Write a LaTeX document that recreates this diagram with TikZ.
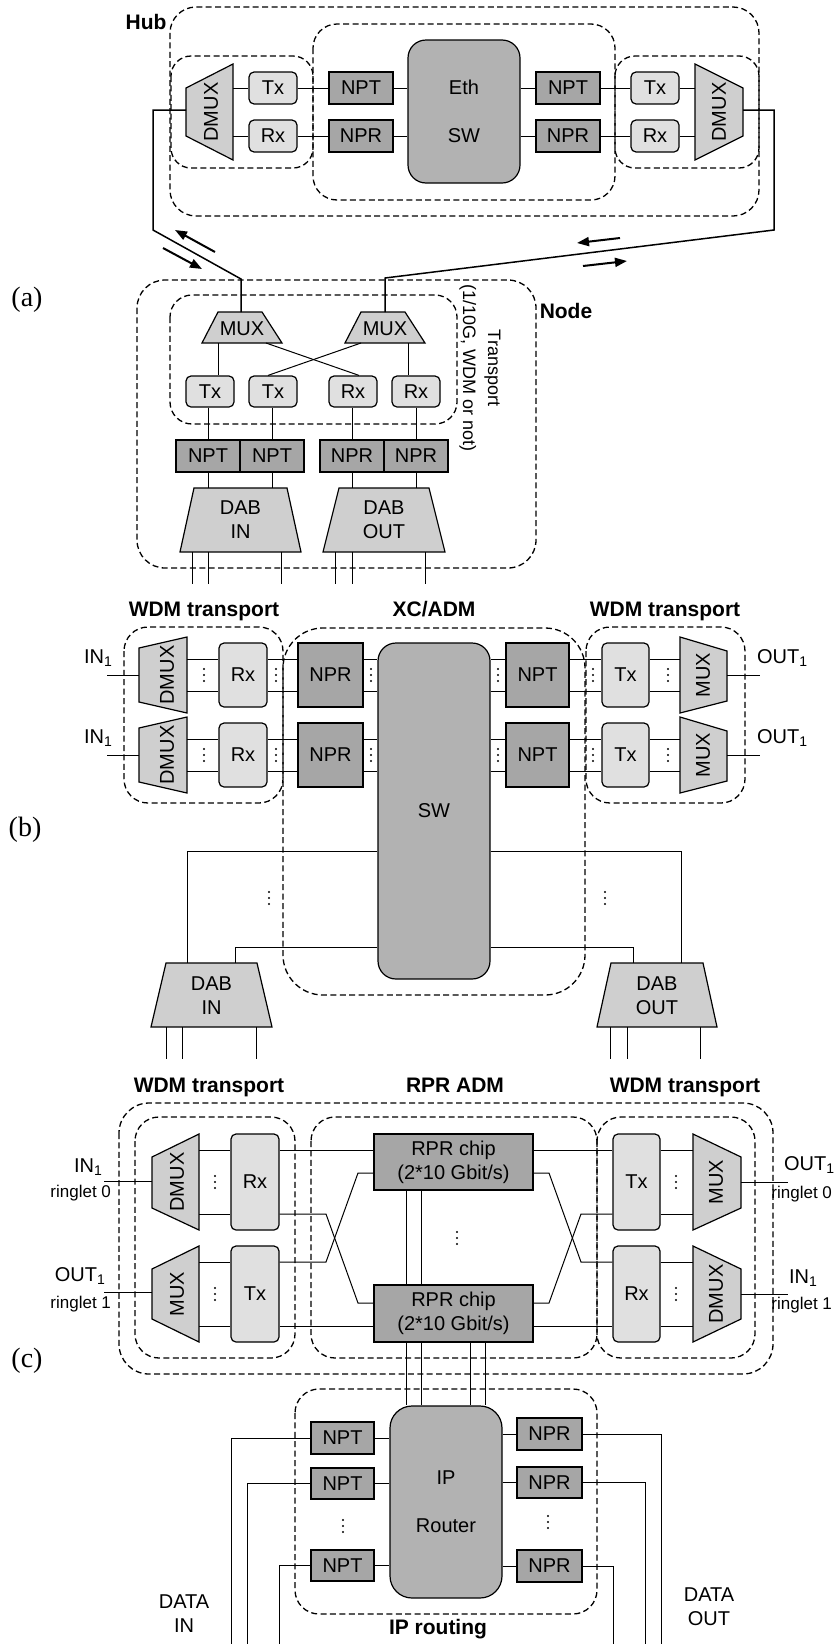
\documentclass[tikz,border=0pt]{standalone}
\usepackage{fontspec}
\setmainfont{Liberation Sans}
\newfontfamily\labfont{Liberation Serif}
\usetikzlibrary{arrows.meta}
\definecolor{txc}{gray}{0.88}
\definecolor{muxc}{gray}{0.81}
\definecolor{npc}{gray}{0.65}
\definecolor{swc}{gray}{0.70}
\newcommand\vdd[2]{\fill (#1,#2-6) circle[radius=1.1] (#1,#2) circle[radius=1.1] (#1,#2+6) circle[radius=1.1];}
\tikzset{
  sz/.style 2 args={minimum width={#1*0.5pt}, minimum height={#2*0.5pt}},
  dbox/.style={draw, dash pattern=on 3pt off 1.7pt, line width=0.65pt, rounded corners=12pt},
  light/.style={draw, fill=txc, rounded corners=2.5pt, line width=0.6pt, inner sep=0pt},
  dark/.style={draw, fill=npc, line width=0.6pt, inner sep=0pt},
  swbox/.style={draw, fill=swc, line width=0.6pt, inner sep=0pt, align=center},
  mux/.style={draw, fill=muxc, line width=0.6pt},
  ln/.style={line width=0.5pt},
  ext/.style={line width=0.75pt},
  arr/.style={line width=1pt, -{Triangle[length=6pt, width=4.5pt]}},
  bl/.style={font=\fontsize{10.5}{12}\selectfont\bfseries},
  labf/.style={font=\labfont\fontsize{14}{16}\selectfont},
  small/.style={font=\fontsize{8.5}{10}\selectfont},
  two/.style={align=center, font=\fontsize{10}{12}\selectfont},
}
\begin{document}
\begin{tikzpicture}[x=0.5pt, y=-0.5pt, font=\fontsize{10}{12}\selectfont]
\useasboundingbox (0,0) rectangle (840,1644);

%================ (a) HUB =================
\node[bl, anchor=base] (hubl) at (146,29) {Hub};
\draw[dbox, rounded corners=13pt] (170,7) rectangle (759,216);
\draw[dbox] (313,24) rectangle (615,200);
\draw[dbox, rounded corners=10pt] (171,56) rectangle (313,168);
\draw[dbox, rounded corners=10pt] (615,56) rectangle (759,168);

\filldraw[mux] (186,88) -- (233,64) -- (233,160) -- (186,136) -- cycle;
\node[rotate=90] (hdmxl) at (211,112) {DMUX};
\filldraw[mux] (695,64) -- (743,88) -- (743,136) -- (695,160) -- cycle;
\node[rotate=90] (hdmxr) at (719,112) {DMUX};
\coordinate (hdl1) at (233,88); \coordinate (hdl2) at (233,136); \coordinate (hdl0) at (186,110);
\coordinate (hdr1) at (695,88); \coordinate (hdr2) at (695,136); \coordinate (hdr0) at (743,110);

\node[light, sz={48}{32}] (htxl) at (273,88) {Tx};
\node[light, sz={48}{32}] (hrxl) at (273,136) {Rx};
\node[dark, sz={64}{32}] (hnptl) at (361,88) {NPT};
\node[dark, sz={64}{32}] (hnprl) at (361,136) {NPR};
\node[swbox, sz={112}{143}, rounded corners=9pt] (hsw) at (464,111.5) {Eth\\[12pt]SW};
\node[dark, sz={64}{32}] (hnptr) at (568,88) {NPT};
\node[dark, sz={64}{32}] (hnprr) at (568,136) {NPR};
\node[light, sz={48}{32}] (htxr) at (655,88) {Tx};
\node[light, sz={48}{32}] (hrxr) at (655,136) {Rx};

\draw[ln] (hdl1) -- (htxl.west);  \draw[ln] (htxl.east) -- (hnptl.west);
\draw[ln] (hnptl.east) -- (hnptl.east -| hsw.west);
\draw[ln] (hdl2) -- (hrxl.west);  \draw[ln] (hrxl.east) -- (hnprl.west);
\draw[ln] (hnprl.east) -- (hnprl.east -| hsw.west);
\draw[ln] (hnptr.west -| hsw.east) -- (hnptr.west); \draw[ln] (hnptr.east) -- (htxr.west);
\draw[ln] (htxr.east) -- (hdr1);
\draw[ln] (hnprr.west -| hsw.east) -- (hnprr.west); \draw[ln] (hnprr.east) -- (hrxr.west);
\draw[ln] (hrxr.east) -- (hdr2);

%================ (a) NODE =================
\node[labf] (la) at (27,300) {(a)};
\draw[dbox, rounded corners=14pt] (137,280) rectangle (536,568);
\draw[dbox, rounded corners=11pt] (170,295) rectangle (457,424);
\node[bl, anchor=base] (nodel) at (566,318) {Node};
\node[rotate=-90, align=center, font=\fontsize{9}{12.5}\selectfont] (transl) at (480,368) {Transport\\(1/10G, WDM or not)};

\filldraw[mux] (218,312) -- (262,312) -- (282,343) -- (202,343) -- cycle;
\node (nmuxl) at (242,329) {MUX};
\filldraw[mux] (361,312) -- (405,312) -- (425,343) -- (345,343) -- cycle;
\node (nmuxr) at (385,329) {MUX};
\coordinate (nml0) at (241,312); \coordinate (nmr0) at (385,312);
\coordinate (nml1) at (218,343); \coordinate (nml2) at (266,343);
\coordinate (nmr1) at (361,343); \coordinate (nmr2) at (408,343);

% hub-node links
\draw[ext] (hdl0) -- (153,110) -- (153,230) -- (241,279) -- (nml0);
\draw[ext] (hdr0) -- (774,110) -- (774,230) -- (385,278) -- (nmr0);
\draw[arr] (215,252) -- (175,230);
\draw[arr] (163,248) -- (202,269);
\draw[arr] (620,238) -- (577,243);
\draw[arr] (583,266) -- (627,261);

\node[light, sz={48}{31}] (ntx1) at (210,391.5) {Tx};
\node[light, sz={48}{31}] (ntx2) at (273,391.5) {Tx};
\node[light, sz={48}{31}] (nrx1) at (353,391.5) {Rx};
\node[light, sz={48}{31}] (nrx2) at (416,391.5) {Rx};
\draw[ln] (nml1) -- (nml1 |- ntx1.north);
\draw[ln] (nml2) -- ([xshift=3pt]nrx1.north);
\draw[ln] (nmr1) -- ([xshift=-2.5pt]ntx2.north);
\draw[ln] (nmr2) -- (nmr2 |- nrx2.north);

\node[dark, sz={64}{32}] (nnpt1) at (208,456) {NPT};
\node[dark, sz={64}{32}] (nnpt2) at (272,456) {NPT};
\node[dark, sz={64}{32}] (nnpr1) at (352,456) {NPR};
\node[dark, sz={64}{32}] (nnpr2) at (416,456) {NPR};
\draw[ln] (nnpt1.north |- ntx1.south) -- (nnpt1.north);
\draw[ln] (nnpt2.north |- ntx2.south) -- (nnpt2.north);
\draw[ln] (nnpr1.north |- nrx1.south) -- (nnpr1.north);
\draw[ln] (nnpr2.north |- nrx2.south) -- (nnpr2.north);

\filldraw[mux] (194,488) -- (287,488) -- (301,552) -- (180,552) -- cycle;
\node[two] (ndabi) at (240.5,520) {DAB\\IN};
\filldraw[mux] (339,488) -- (429,488) -- (445,552) -- (323,552) -- cycle;
\node[two] (ndabo) at (384,520) {DAB\\OUT};
\coordinate (ndit) at (240,488); \coordinate (ndot) at (384,488);
\draw[ln] (nnpt1.south) -- (nnpt1.south |- ndit);
\draw[ln] (nnpt2.south) -- (nnpt2.south |- ndit);
\draw[ln] (nnpr1.south) -- (nnpr1.south |- ndot);
\draw[ln] (nnpr2.south) -- (nnpr2.south |- ndot);
\foreach \x in {192,208,281,335,352,425} \draw[ln] (\x,552) -- (\x,584);

%================ (b) =================
\node[bl, anchor=base] (bw1) at (204,616) {WDM transport};
\node[bl, anchor=base] (bxc) at (434,616) {XC/ADM};
\node[bl, anchor=base] (bw2) at (665,616) {WDM transport};
\node[labf] (lb) at (25,830) {(b)};
\draw[dbox] (124,627) rectangle (283,803);
\draw[dbox, rounded corners=20pt] (283,628) rectangle (585,995);
\draw[dbox] (586,627) rectangle (745,803);

\node[swbox, sz={112}{336}, rounded corners=9pt] (bsw) at (434,811) {SW};

\foreach \r/\yc in {1/675, 2/755}{
  \filldraw[mux] (139,\yc-27) -- (187,\yc-38) -- (187,\yc+38) -- (139,\yc+27) -- cycle;
  \node[rotate=90] (bdm\r) at (167,\yc) {DMUX};
  \draw[ln] (107,\yc) -- (139,\yc);
  \node[anchor=base east] (bin\r) at (120,\yc-12) {IN\textsubscript{1}};
  \node[light, sz={48}{64}] (brx\r) at (243,\yc) {Rx};
  \node[dark, sz={65}{64}] (bnpr\r) at (330.5,\yc) {NPR};
  \node[dark, sz={63}{64}] (bnpt\r) at (537.5,\yc) {NPT};
  \node[light, sz={47}{64}] (btx\r) at (625.5,\yc) {Tx};
  \filldraw[mux] (680,\yc-38) -- (727,\yc-24) -- (727,\yc+26) -- (680,\yc+38) -- cycle;
  \node[rotate=90] (bmx\r) at (703,\yc) {MUX};
  \draw[ln] (727,\yc) -- (760,\yc);
  \node[anchor=base west] (bout\r) at (750,\yc-12) {OUT\textsubscript{1}};
  \foreach \s in {8pt,-8pt}{
    \draw[ln] ([yshift=\s]brx\r.west -| 187,0) -- ([yshift=\s]brx\r.west);
    \draw[ln] ([yshift=\s]brx\r.east) -- ([yshift=\s]bnpr\r.west);
    \draw[ln] ([yshift=\s]bnpr\r.east) -- ([yshift=\s]bnpr\r.east -| bsw.west);
    \draw[ln] ([yshift=\s]bnpt\r.west -| bsw.east) -- ([yshift=\s]bnpt\r.west);
    \draw[ln] ([yshift=\s]bnpt\r.east) -- ([yshift=\s]btx\r.west);
    \draw[ln] ([yshift=\s]btx\r.east) -- ([yshift=\s]btx\r.east -| 680,0);
  }
  \vdd{204}{\yc} \vdd{276}{\yc} \vdd{371}{\yc} \vdd{498}{\yc} \vdd{593}{\yc} \vdd{668}{\yc}
}

\filldraw[mux] (166,963) -- (257,963) -- (272,1027) -- (151,1027) -- cycle;
\node[two] (bdabi) at (211.5,996) {DAB\\IN};
\filldraw[mux] (611,963) -- (703,963) -- (717,1027) -- (597,1027) -- cycle;
\node[two] (bdabo) at (657,996) {DAB\\OUT};
\coordinate (bdi1) at (187,963); \coordinate (bdi2) at (235,963);
\coordinate (bdo1) at (681,963); \coordinate (bdo2) at (633,963);
\draw[ln] ([yshift=-20pt]bsw.west) -| (bdi1);
\draw[ln] ([yshift=-68pt]bsw.west) -| (bdi2);
\draw[ln] ([yshift=-20pt]bsw.east) -| (bdo1);
\draw[ln] ([yshift=-68pt]bsw.east) -| (bdo2);
\vdd{269}{898} \vdd{605}{898}
\foreach \x in {166,182,256,610,627,700} \draw[ln] (\x,1027) -- (\x,1059);

%================ (c) =================
\node[bl, anchor=base] (cw1) at (209,1092) {WDM transport};
\node[bl, anchor=base] (crpra) at (455,1092) {RPR ADM};
\node[bl, anchor=base] (cw2) at (685,1092) {WDM transport};
\node[labf] (lc) at (27,1361) {(c)};
\draw[dbox, rounded corners=15pt] (119,1103) rectangle (773,1374);
\draw[dbox] (135,1117) rectangle (295,1358);
\draw[dbox] (311,1117) rectangle (597,1358);
\draw[dbox] (597,1117) rectangle (755,1358);

% left WDM
\filldraw[mux] (152,1157) -- (199,1134) -- (199,1230) -- (152,1208) -- cycle;
\node[rotate=90] (cdm1) at (177,1182) {DMUX};
\filldraw[mux] (152,1269) -- (199,1246) -- (199,1342) -- (152,1319) -- cycle;
\node[rotate=90] (cmx1) at (177,1294) {MUX};
\node[light, sz={48}{96}] (crx1) at (255,1182) {Rx};
\node[light, sz={48}{96}] (ctx1) at (255,1294) {Tx};
\foreach \s in {16pt,-16pt}{
  \draw[ln] ([yshift=\s]crx1.west -| 199,0) -- ([yshift=\s]crx1.west);
  \draw[ln] ([yshift=\s]ctx1.west -| 199,0) -- ([yshift=\s]ctx1.west);
}
\vdd{215}{1182} \vdd{215}{1294}
\draw[ln] (104,1181) -- (152,1181);
\draw[ln] (104,1292) -- (152,1292);
\node[anchor=base east] (cin1) at (110,1172) {IN\textsubscript{1}};
\node[small, anchor=base east] (crg0) at (118,1197) {ringlet 0};
\node[anchor=base east] (cout1) at (113,1281) {OUT\textsubscript{1}};
\node[small, anchor=base east] (crg1) at (118,1308) {ringlet 1};

% RPR chips
\node[dark, sz={159}{56}, two] (crpr1) at (453.5,1162) {RPR chip\\(2*10 Gbit/s)};
\node[dark, sz={159}{57}, two] (crpr2) at (453.5,1313.5) {RPR chip\\(2*10 Gbit/s)};

% right WDM
\node[light, sz={47}{96}] (ctx2) at (636.5,1182) {Tx};
\node[light, sz={47}{96}] (crx2) at (636.5,1294) {Rx};
\filldraw[mux] (693,1134) -- (741,1157) -- (741,1208) -- (693,1230) -- cycle;
\node[rotate=90] (cmx2) at (716,1182) {MUX};
\filldraw[mux] (693,1246) -- (741,1269) -- (741,1319) -- (693,1342) -- cycle;
\node[rotate=90] (cdm2) at (716,1294) {DMUX};
\foreach \s in {16pt,-16pt}{
  \draw[ln] ([yshift=\s]ctx2.east) -- ([yshift=\s]ctx2.east -| 693,0);
  \draw[ln] ([yshift=\s]crx2.east) -- ([yshift=\s]crx2.east -| 693,0);
}
\vdd{676}{1182} \vdd{676}{1294}
\draw[ln] (741,1182) -- (788,1182);
\draw[ln] (741,1294) -- (788,1294);
\node[anchor=base west] (cout2) at (777,1170) {OUT\textsubscript{1}};
\node[small, anchor=base east] (crg2) at (839,1198) {ringlet 0};
\node[anchor=base west] (cin2) at (782,1283) {IN\textsubscript{1}};
\node[small, anchor=base east] (crg3) at (839,1309) {ringlet 1};

% ring connections
\draw[ln] ([yshift=16pt]crx1.east) -- ([yshift=6pt]crpr1.west);
\draw[ln] ([yshift=-16pt]crx1.east) -- (326,1214) -- (358,1303) -- ([yshift=5.25pt]crpr2.west);
\draw[ln] ([yshift=16pt]ctx1.east) -- (326,1262) -- (358,1173) -- ([yshift=-5.5pt]crpr1.west);
\draw[ln] ([yshift=-16pt]ctx1.east) -- ([yshift=-6.25pt]crpr2.west);
\draw[ln] ([yshift=6pt]crpr1.east) -- ([yshift=16pt]ctx2.west);
\draw[ln] ([yshift=-5.5pt]crpr1.east) -- (549,1173) -- (581,1262) -- ([yshift=16pt]crx2.west);
\draw[ln] ([yshift=5.25pt]crpr2.east) -- (549,1303) -- (581,1214) -- ([yshift=-16pt]ctx2.west);
\draw[ln] ([yshift=-6.25pt]crpr2.east) -- ([yshift=-16pt]crx2.west);
\draw[ln] ([xshift=-23.75pt]crpr1.south) -- ([xshift=-23.75pt]crpr2.north);
\draw[ln] ([xshift=-16.25pt]crpr1.south) -- ([xshift=-16.25pt]crpr2.north);
\vdd{457}{1238}

% IP routing
\draw[dbox] (295,1389) rectangle (597,1614);
\node[swbox, sz={112}{192}, rounded corners=11pt] (crt) at (446,1502) {IP\\[12pt]Router};
\foreach \s in {-23.75pt,-16.25pt,8.25pt,15.75pt}
  \draw[ln] ([xshift=\s]crpr2.south) -- ([xshift=\s]crpr2.south |- crt.north);
\node[dark, sz={63}{32}] (cnpt1) at (342.5,1438) {NPT};
\node[dark, sz={63}{31}] (cnpt2) at (342.5,1483.5) {NPT};
\node[dark, sz={63}{31}] (cnpt3) at (342.5,1565.5) {NPT};
\node[dark, sz={65}{32}] (cnpr1) at (549.5,1434) {NPR};
\node[dark, sz={65}{31}] (cnpr2) at (549.5,1482.5) {NPR};
\node[dark, sz={65}{32}] (cnpr3) at (549.5,1566) {NPR};
\foreach \n in {1,2,3}{
  \draw[ln] (cnpt\n.east) -- (cnpt\n.east -| crt.west);
  \draw[ln] (cnpr\n.west -| crt.east) -- (cnpr\n.west);
}
\vdd{343}{1526} \vdd{548}{1522}
\coordinate (din1) at (231,1644); \coordinate (din2) at (247,1644); \coordinate (din3) at (279,1644);
\coordinate (dout1) at (661,1644); \coordinate (dout2) at (645,1644); \coordinate (dout3) at (613,1644);
\draw[ln] (cnpt1.west) -| (din1);
\draw[ln] (cnpt2.west) -| (din2);
\draw[ln] (cnpt3.west) -| (din3);
\draw[ln] (cnpr1.east) -| (dout1);
\draw[ln] (cnpr2.east) -| (dout2);
\draw[ln] (cnpr3.east) -| (dout3);
\node[two] (datain) at (184,1614) {DATA\\IN};
\node[two] (dataout) at (709,1607) {DATA\\OUT};
\node[bl, anchor=base] (iprl) at (438,1634) {IP routing};
\end{tikzpicture}
\end{document}
